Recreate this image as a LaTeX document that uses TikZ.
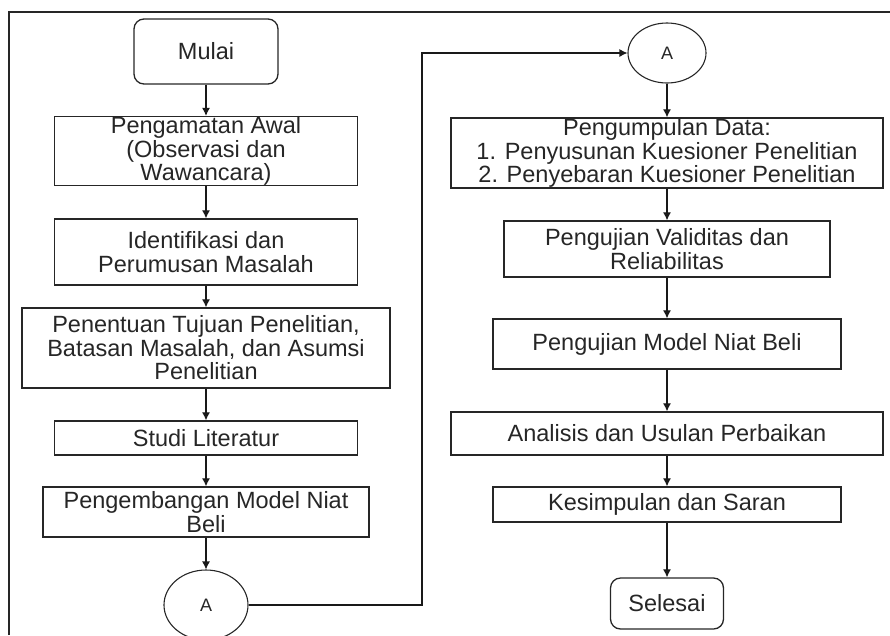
\documentclass[tikz,border=0pt]{standalone}
\usepackage{fontspec}
\setmainfont{Liberation Sans}
\usetikzlibrary{arrows.meta,shapes.geometric}
\tikzset{
  proses/.style={draw=black!85, line width=1.3pt, align=center, inner sep=0pt,
    font=\fontsize{23.5}{23.5}\selectfont, text=black!85},
  terminal/.style={proses, rounded corners=10pt},
  konektor/.style={draw=black!85, line width=1.1pt, ellipse, inner sep=0pt,
    font=\fontsize{18}{19}\selectfont, text=black!85},
  panah/.style={draw=black!90, line width=1.2pt, -{Latex[length=8pt,width=8pt]}}
}
\begin{document}
\begin{tikzpicture}[x=1pt,y=-1pt]
\useasboundingbox (0,0) rectangle (890,635);
\draw[line width=1.6pt, black!85] (9,635) -- (9,12) -- (890,12);

\node[terminal, minimum width=144, minimum height=65] (mulai) at (206,51.5) {Mulai};
\node[proses, minimum width=303, minimum height=66] (obs) at (206,151) {Pengamatan Awal\\(Observasi dan\\Wawancara)};
\node[proses, minimum width=303, minimum height=66] (ident) at (206,252) {Identifikasi dan\\Perumusan Masalah};
\node[proses, minimum width=368, minimum height=80] (tujuan) at (206,348) {Penentuan Tujuan Penelitian,\\Batasan Masalah, dan Asumsi\\Penelitian};
\node[proses, minimum width=303, minimum height=34] (studi) at (206,438) {Studi Literatur};
\node[proses, minimum width=326, minimum height=50] (model) at (206,512) {Pengembangan Model Niat\\Beli};
\node[konektor, minimum width=84, minimum height=70] (konA) at (206,605) {A};

\node[konektor, minimum width=78, minimum height=60] (konB) at (667,53) {A};
\node[proses, minimum width=432, minimum height=70] (data) at (667,153) {Pengumpulan Data:\\1. Penyusunan Kuesioner Penelitian\\2. Penyebaran Kuesioner Penelitian};
\node[proses, minimum width=326, minimum height=56] (valid) at (667,249) {Pengujian Validitas dan\\Reliabilitas};
\node[proses, minimum width=348, minimum height=50] (ujimodel) at (667,344) {Pengujian Model Niat Beli};
\node[proses, minimum width=432, minimum height=43] (analisis) at (667,433.5) {Analisis dan Usulan Perbaikan};
\node[proses, minimum width=348, minimum height=35] (saran) at (667,504.5) {Kesimpulan dan Saran};
\node[terminal, minimum width=113, minimum height=51] (selesai) at (667,603.5) {Selesai};

\foreach \a/\b in {mulai/obs, obs/ident, ident/tujuan, tujuan/studi, studi/model, model/konA,
    konB/data, data/valid, valid/ujimodel, ujimodel/analisis, analisis/saran, saran/selesai}{
  \draw[panah] (\a) -- (\b);
}

\coordinate (belok) at (422,53);
\draw[panah] (konA.east) -| (belok) |- (konB.west);
\end{tikzpicture}
\end{document}
